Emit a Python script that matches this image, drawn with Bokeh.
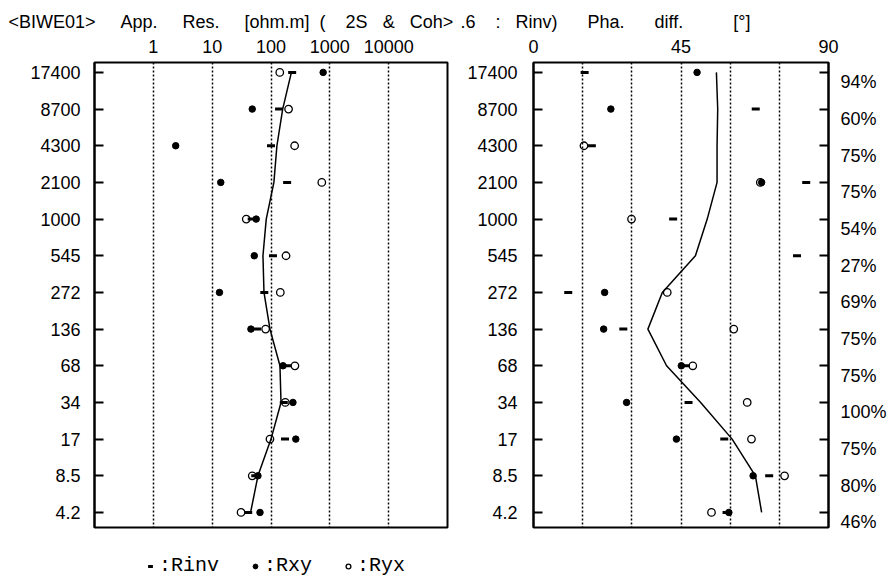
from bokeh.plotting import figure
from bokeh.models import Range1d, FixedTicker, LinearAxis, Legend, LegendItem
from bokeh.layouts import row, column
from bokeh.embed import file_html
from bokeh.resources import INLINE

nan = float("nan")

# ---------------- data ----------------
freq_labels = ["17400", "8700", "4300", "2100", "1000", "545", "272",
               "136", "68", "34", "17", "8.5", "4.2"]
coh_labels = ["94%", "60%", "75%", "75%", "54%", "27%", "69%",
              "75%", "75%", "100%", "75%", "80%", "46%"]

# apparent resistivity [ohm.m]
rho_inv = [229, 137, 100, 188, 47, 108, 77, 58, 187, 165, 173, 54, 41]
rho_xy = [770, 48, 2.4, 14, 56, 52, 13.3, 45.6, 160, 236, 264, 60, 65]
rho_yx = [141, 199, 252, 730, 38, 180, 144, 81, 255, 175, 96, 48, 31]
rho_model = [222, 158, 126, 112, 83, 73, 76, 96, 142, 148, 100, 60, 45]

# phase difference [deg]
pha_inv = [15.6, 67.8, 17.8, 83.2, 42.6, 80.4, 10.6, 27.4, 46.5, 47.3, 58.2, 71.9, 58.9]
pha_xy = [49.9, 23.6, nan, 69.6, nan, nan, 21.7, 21.4, 45.1, 28.4, 43.6, 67.0, 59.6]
pha_yx = [nan, nan, 15.4, 69.2, 29.9, nan, 40.8, 61.1, 48.6, 65.2, 66.5, 76.6, 54.3]
pha_model = [55.8, 56.2, 56.0, 56.0, 53.0, 49.4, 39.3, 34.9, 40.6, 51.0, 60.6, 67.7, 69.6]

res_ticks = [1, 10, 100, 1000, 10000]
res_tick_labels = ["1", "10", "100", "1000", "10000"]
pha_ticks = [0, 45, 90]
pha_tick_labels = ["0", "45", "90"]
pha_grid = [15, 30, 45, 60, 75]

title_left_words = ["<BIWE01>", "App.", "Res.", "[ohm.m]", "(", "2S", "&", "Coh>"]
title_right_words = [".6", ":", "Rinv)", "Pha.", "diff.", "[°]"]
legend_labels = [":Rinv", ":Rxy", ":Ryx"]

rows = list(range(len(freq_labels)))

# ---------------- layout / styling ----------------
FONT = "Liberation Sans"
MONO = "Liberation Mono"
NB = "\u00a0"
H = 550
LEG_H = 583 - H
TOP, BOTTOM = 62, 23
Y_RANGE = (len(rows) - 1 + 0.41, -0.27)
COH_SHIFT = 0.27          # coherence labels sit a little below each row
left_gaps = [5, 5, 5, 2, 4, 3, 3]
right_gaps = [4, 3, 6, 6, 10]


def spaced(words, gaps):
    out = words[0]
    for w, g in zip(words[1:], gaps):
        out += NB * g + w
    return out


def style_common(p, title_text, title_offset):
    p.outline_line_color = "black"
    p.outline_line_width = 2
    p.ygrid.visible = False
    p.xgrid.grid_line_color = "black"
    p.xgrid.grid_line_dash = "2 2"
    p.xgrid.grid_line_width = 1.5
    p.background_fill_color = "white"
    p.border_fill_color = "white"
    ax = p.xaxis[0]
    ax.axis_line_color = None
    ax.major_tick_in = 0
    ax.major_tick_out = 0
    ax.minor_tick_line_color = None
    ax.major_label_standoff = 10
    ax.major_label_text_font = FONT
    ax.major_label_text_font_size = "18px"
    ax.major_label_text_color = "black"
    ay = p.yaxis[0]
    ay.ticker = FixedTicker(ticks=rows)
    ay.major_label_overrides = {i: s for i, s in zip(rows, freq_labels)}
    ay.major_tick_in = 9
    ay.major_tick_out = 0
    ay.major_tick_line_width = 2
    ay.major_tick_line_color = "black"
    ay.minor_tick_line_color = None
    ay.axis_line_width = 2
    ay.axis_line_color = "black"
    ay.major_label_text_font = FONT
    ay.major_label_text_font_size = "18px"
    ay.major_label_text_color = "black"
    t = p.title
    t.text = title_text
    t.align = "left"
    t.offset = title_offset
    t.standoff = 10
    t.text_font = FONT
    t.text_font_size = "18px"
    t.text_font_style = "normal"
    t.text_color = "black"


def add_points(p, inv, xy, yx, model, ys):
    if model is not None:
        p.line(model, ys, line_color="black", line_width=1.5)
    r1 = p.scatter(inv, ys, marker="dash", size=8, line_width=3, line_color="black")
    r2 = p.scatter(xy, ys, marker="circle", size=6.5, fill_color="black", line_color="black")
    r3 = p.scatter(yx, ys, marker="circle", size=7.5, fill_color=None,
                   line_color="black", line_width=1.3)
    return r1, r2, r3


# ---------------- left panel: apparent resistivity ----------------
p1 = figure(width=456, height=H, x_axis_type="log", x_range=Range1d(0.1, 1e5),
            y_range=Range1d(*Y_RANGE), x_axis_location="above",
            output_backend="svg", toolbar_location=None,
            min_border_left=94, min_border_right=9,
            min_border_top=TOP, min_border_bottom=BOTTOM)
style_common(p1, spaced(title_left_words, left_gaps), -86)
p1.xaxis[0].ticker = FixedTicker(ticks=res_ticks)
p1.xaxis[0].major_label_overrides = {t: s for t, s in zip(res_ticks, res_tick_labels)}
p1.xgrid.ticker = FixedTicker(ticks=res_ticks)
p1.yaxis[0].major_label_standoff = 14
add_points(p1, rho_inv, rho_xy, rho_yx, rho_model, rows)

# ---------------- right panel: phase ----------------
p2 = figure(width=434, height=H, x_range=Range1d(pha_ticks[0], pha_ticks[-1]),
            y_range=Range1d(*Y_RANGE), x_axis_location="above",
            output_backend="svg", toolbar_location=None,
            min_border_left=77, min_border_right=62,
            min_border_top=TOP, min_border_bottom=BOTTOM)
style_common(p2, spaced(title_right_words, right_gaps), -73)
p2.xaxis[0].ticker = FixedTicker(ticks=pha_ticks)
p2.xaxis[0].major_label_overrides = {t: s for t, s in zip(pha_ticks, pha_tick_labels)}
p2.xgrid.ticker = FixedTicker(ticks=pha_grid)
p2.yaxis[0].major_label_standoff = 16

tick_ax = LinearAxis(ticker=FixedTicker(ticks=rows), major_tick_in=9, major_tick_out=0,
                     major_tick_line_width=2, major_tick_line_color="black",
                     minor_tick_line_color=None, axis_line_width=2,
                     axis_line_color="black", major_label_standoff=0,
                     major_label_overrides={i: "" for i in rows})
p2.add_layout(tick_ax, "right")

coh_ticks = [r + COH_SHIFT for r in rows]
coh_ax = LinearAxis(ticker=FixedTicker(ticks=coh_ticks), major_tick_in=0, major_tick_out=0,
                    minor_tick_line_color=None, axis_line_color=None,
                    major_label_standoff=12,
                    major_label_overrides={t: s for t, s in zip(coh_ticks, coh_labels)},
                    major_label_text_font=FONT, major_label_text_font_size="18px",
                    major_label_text_color="black")
p2.add_layout(coh_ax, "right")
add_points(p2, pha_inv, pha_xy, pha_yx, pha_model, rows)

# ---------------- legend strip ----------------
lf = figure(width=890, height=LEG_H, x_range=Range1d(0, 1), y_range=Range1d(0, 1),
            x_axis_type=None, y_axis_type=None, output_backend="svg",
            toolbar_location=None, min_border=0)
lf.outline_line_color = None
lf.grid.visible = False
lf.background_fill_color = "white"
lf.border_fill_color = "white"
# legend-only renderers (a single empty point each, nothing drawn in the strip)
l_inv, l_xy, l_yx = add_points(lf, [nan], [nan], [nan], None, [nan])
legend = Legend(items=[LegendItem(label=lab, renderers=[r], index=0)
                       for lab, r in zip(legend_labels, [l_inv, l_xy, l_yx])],
                location=(144, 6), orientation="horizontal", padding=0, margin=0,
                spacing=30, glyph_width=12, glyph_height=20, label_height=20,
                label_standoff=3, label_text_font=MONO, label_text_font_size="20px",
                label_text_color="black", border_line_color=None,
                background_fill_alpha=0)
lf.add_layout(legend)

layout = column(row(p1, p2), lf)
open("out.html", "w").write(file_html(layout, INLINE))
